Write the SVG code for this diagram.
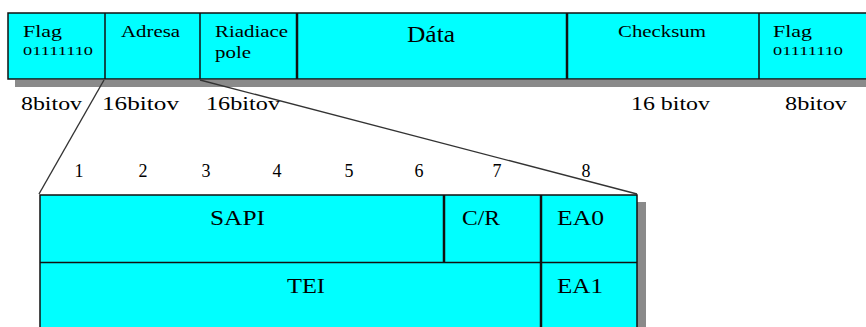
<svg xmlns="http://www.w3.org/2000/svg" width="866" height="327" viewBox="0 0 866 327">
  <style>
    .cell { fill: #00ffff; stroke: #111; stroke-width: 1.5; }
    .shadow { fill: #8a8a8a; }
    .div { stroke: #111; stroke-width: 1.5; }
    .thick { stroke: #111; stroke-width: 2.5; }
    .lbl { font-family: "Liberation Serif", "Times New Roman", serif; fill: #000; }
    .ser { font-family: "Liberation Serif", "Times New Roman", serif; fill: #000; }
    .conn { stroke: #333; stroke-width: 1.4; fill: none; }
  </style>
  <rect width="866" height="327" fill="#fff"/>

  <!-- HDLC / LAPD frame -->
  <g id="frame">
    <rect class="shadow" x="15" y="80" width="860" height="7"/>
    <rect class="cell" x="8" y="13" width="870" height="66"/>
    <line class="div" x1="105" y1="13" x2="105" y2="79"/>
    <line class="div" x1="200" y1="13" x2="200" y2="79"/>
    <line class="thick" x1="297" y1="13" x2="297" y2="79"/>
    <line class="thick" x1="567" y1="13" x2="567" y2="79"/>
    <line class="div" x1="759" y1="13" x2="759" y2="79"/>
  </g>
  <g id="flag1">
    <text class="lbl" x="23" y="37" font-size="17" textLength="39" lengthAdjust="spacingAndGlyphs">Flag</text>
    <text class="lbl" x="23" y="55" font-size="13" textLength="70" lengthAdjust="spacingAndGlyphs">01111110</text>
  </g>
  <g id="adresa">
    <text class="lbl" x="121" y="37" font-size="17" textLength="59" lengthAdjust="spacingAndGlyphs">Adresa</text>
  </g>
  <g id="riadiace">
    <text class="lbl" x="215" y="37" font-size="17" textLength="73" lengthAdjust="spacingAndGlyphs">Riadiace</text>
    <text class="lbl" x="215" y="58" font-size="17" textLength="36" lengthAdjust="spacingAndGlyphs">pole</text>
  </g>
  <g id="data">
    <text class="ser" x="407" y="42" font-size="24" textLength="48" lengthAdjust="spacingAndGlyphs">Dáta</text>
  </g>
  <g id="checksum">
    <text class="lbl" x="618" y="37" font-size="17" textLength="88" lengthAdjust="spacingAndGlyphs">Checksum</text>
  </g>
  <g id="flag2">
    <text class="lbl" x="773" y="37" font-size="17" textLength="39" lengthAdjust="spacingAndGlyphs">Flag</text>
    <text class="lbl" x="773" y="55" font-size="13" textLength="70" lengthAdjust="spacingAndGlyphs">01111110</text>
  </g>

  <!-- field sizes -->
  <g id="sizes" font-size="19">
    <text class="ser" x="21" y="110" textLength="61" lengthAdjust="spacingAndGlyphs">8bitov</text>
    <text class="ser" x="102" y="110" textLength="77" lengthAdjust="spacingAndGlyphs">16bitov</text>
    <text class="ser" x="206" y="110" textLength="74" lengthAdjust="spacingAndGlyphs">16bitov</text>
    <text class="ser" x="631" y="110" textLength="79" lengthAdjust="spacingAndGlyphs">16 bitov</text>
    <text class="ser" x="785" y="110" textLength="62" lengthAdjust="spacingAndGlyphs">8bitov</text>
  </g>

  <!-- zoom lines from the address field -->
  <g id="connectors">
    <line class="conn" x1="104" y1="80" x2="39" y2="194"/>
    <line class="conn" x1="200" y1="80" x2="637" y2="194"/>
  </g>

  <!-- bit numbers -->
  <g id="bits" font-size="18" text-anchor="middle">
    <text class="ser" x="79" y="177">1</text>
    <text class="ser" x="143" y="177">2</text>
    <text class="ser" x="206" y="177">3</text>
    <text class="ser" x="277" y="177">4</text>
    <text class="ser" x="349" y="177">5</text>
    <text class="ser" x="419" y="177">6</text>
    <text class="ser" x="497" y="177">7</text>
    <text class="ser" x="586" y="177">8</text>
  </g>

  <!-- address field detail -->
  <g id="address">
    <rect class="shadow" x="637" y="202" width="9" height="130"/>
    <rect class="cell" x="40" y="195" width="597" height="140"/>
    <line class="div" x1="40" y1="262.5" x2="637" y2="262.5"/>
    <line class="thick" x1="444" y1="195" x2="444" y2="262"/>
    <line class="thick" x1="541" y1="195" x2="541" y2="335"/>
  </g>
  <g id="sapi">
    <text class="lbl" x="210" y="225" font-size="21" textLength="55" lengthAdjust="spacingAndGlyphs">SAPI</text>
  </g>
  <g id="cr">
    <text class="lbl" x="462" y="225" font-size="21" textLength="38" lengthAdjust="spacingAndGlyphs">C/R</text>
  </g>
  <g id="ea0">
    <text class="lbl" x="557" y="225" font-size="21" textLength="47" lengthAdjust="spacingAndGlyphs">EA0</text>
  </g>
  <g id="tei">
    <text class="lbl" x="287" y="293" font-size="21" textLength="38" lengthAdjust="spacingAndGlyphs">TEI</text>
  </g>
  <g id="ea1">
    <text class="lbl" x="557" y="293" font-size="21" textLength="46" lengthAdjust="spacingAndGlyphs">EA1</text>
  </g>
</svg>
